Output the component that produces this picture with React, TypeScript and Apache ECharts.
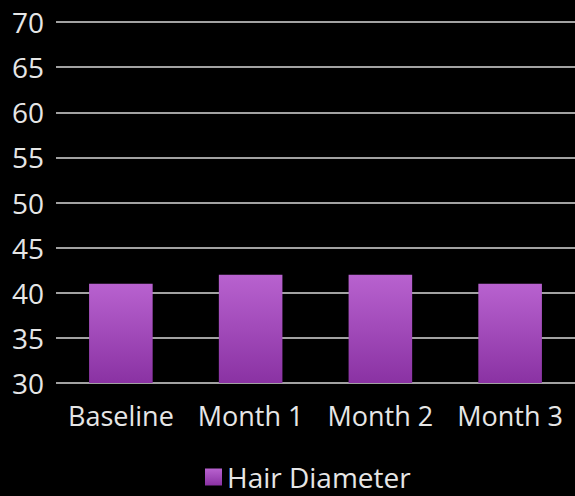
import React, { useEffect, useRef } from "react";
import * as echarts from "echarts";

const categories = ["Baseline", "Month 1", "Month 2", "Month 3"];
const hairDiameter = [41, 42, 42, 41];
const seriesName = "Hair Diameter";
const yMin = 30;
const yMax = 70;
const yInterval = 5;

export default function App() {
  const ref = useRef<HTMLDivElement>(null);
  useEffect(() => {
    document.body.style.margin = "0";
    document.body.style.background = "#000";
    const chart = echarts.init(ref.current!, null, { renderer: "svg" });
    const font = "Open Sans";
    chart.setOption({
      animation: false,
      backgroundColor: "#000000",
      grid: { left: 56, right: -1, top: 22, bottom: 113, containLabel: false },
      legend: {
        data: [seriesName],
        bottom: 0,
        left: 200,
        itemWidth: 17,
        itemHeight: 17,
        itemGap: 4,
        icon: "rect",
        textStyle: { color: "#e6e6e6", fontSize: 28, fontFamily: font },
      },
      xAxis: {
        type: "category",
        data: categories,
        axisLine: { show: false },
        axisTick: { show: false },
        axisLabel: { color: "#e6e6e6", fontSize: 27, fontFamily: font, margin: 19, interval: 0 },
      },
      yAxis: {
        type: "value",
        min: yMin,
        max: yMax,
        interval: yInterval,
        axisLine: { show: false },
        axisTick: { show: false },
        axisLabel: { color: "#e6e6e6", fontSize: 28, fontFamily: font, margin: 12 },
        splitLine: { lineStyle: { color: "#d9d9d9", width: 1.5 } },
      },
      series: [
        {
          name: seriesName,
          type: "bar",
          data: hairDiameter,
          barWidth: "49%",
          itemStyle: {
            color: new echarts.graphic.LinearGradient(0, 0, 0, 1, [
              { offset: 0, color: "#b862cf" },
              { offset: 1, color: "#8a32a3" },
            ]),
          },
        },
      ],
    });
    return () => chart.dispose();
  }, []);
  return <div ref={ref} style={{ width: 575, height: 496 }} />;
}
